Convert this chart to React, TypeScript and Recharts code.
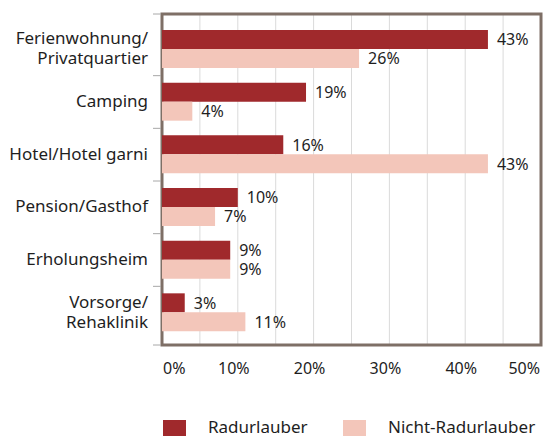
import React from 'react';
import { BarChart, Bar, XAxis, YAxis, CartesianGrid, LabelList, Legend, Customized } from 'recharts';

const categories = [
  'Ferienwohnung/\nPrivatquartier',
  'Camping',
  'Hotel/Hotel garni',
  'Pension/Gasthof',
  'Erholungsheim',
  'Vorsorge/\nRehaklinik',
];
const radurlauber = [43, 19, 16, 10, 9, 3];
const nichtRadurlauber = [26, 4, 43, 7, 9, 11];
const seriesNames = ['Radurlauber', 'Nicht-Radurlauber'];
const xTicks = [0, 5, 10, 15, 20, 25, 30, 35, 40, 45, 50];

const data = categories.map((name, i) => ({
  name,
  rad: radurlauber[i],
  nicht: nichtRadurlauber[i],
}));

const W = 544;
const H = 436;
const FONT = '"Noto Sans", "Open Sans", sans-serif';
const RED = '#a0292c';
const PINK = '#f3c6ba';
const COLORS = [RED, PINK];
const FRAME = '#7e6f66';
const TEXT = '#1e1e1e';
const MARGIN = { top: 14, right: 3, left: 0, bottom: 0 };
const Y_W = 162;
const X_H = 91;
const PAD = { top: 9, bottom: 6 };
const PLOT_TOP = MARGIN.top;
const PLOT_BOTTOM = H - MARGIN.bottom - X_H;
const BAND = (PLOT_BOTTOM - PLOT_TOP - PAD.top - PAD.bottom) / categories.length;
const AXIS_X = MARGIN.left + Y_W;
const PLOT_RIGHT = W - MARGIN.right;

const fmt = (v: any) => `${v}%`;

const YTick = (props: any) => {
  const { y, payload, index } = props;
  const lines = String(payload.value).split('\n');
  const lh = 20;
  const last = index === categories.length - 1;
  const tx = AXIS_X - 14;
  const tickY = index === 0 ? PLOT_TOP : y - BAND / 2;
  return (
    <g>
      <line x1={AXIS_X - 9} x2={AXIS_X - 1} y1={tickY} y2={tickY} stroke="#a8a8a8" strokeWidth={1} />
      {last && (
        <line x1={AXIS_X - 9} x2={AXIS_X - 1} y1={PLOT_BOTTOM} y2={PLOT_BOTTOM} stroke="#a8a8a8" strokeWidth={1} />
      )}
      <text x={tx} y={y} textAnchor="end" fontSize={17} fontFamily={FONT} fill={TEXT}>
        {lines.map((l, i) => (
          <tspan key={i} x={tx} dy={i === 0 ? -((lines.length - 1) * lh) / 2 + 5 : lh}>
            {l}
          </tspan>
        ))}
      </text>
    </g>
  );
};

const XTick = (props: any) => {
  const { x, payload } = props;
  const v = payload.value;
  if (v % 10 !== 0) return <g />;
  let anchor: 'start' | 'middle' | 'end' = 'middle';
  let dx = -4;
  if (v === xTicks[0]) {
    anchor = 'start';
    dx = 1;
  }
  if (v === xTicks[xTicks.length - 1]) {
    anchor = 'end';
    dx = -1;
  }
  return (
    <text x={x + dx} y={PLOT_BOTTOM + 29} textAnchor={anchor} fontSize={16} fontFamily={FONT} fill={TEXT}>
      {fmt(v)}
    </text>
  );
};

const LegendContent = () => (
  <div style={{ display: 'flex', paddingLeft: 163, fontFamily: FONT, fontSize: 17, color: TEXT }}>
    {seriesNames.map((name, i) => (
      <div key={name} style={{ display: 'flex', width: i === 0 ? 180 : 'auto', alignItems: 'flex-start' }}>
        <div style={{ width: 23, height: 23, background: COLORS[i], flex: 'none' }} />
        <div style={{ marginLeft: 22, lineHeight: '16px', marginTop: -1, whiteSpace: 'nowrap' }}>{name}</div>
      </div>
    ))}
  </div>
);

const PlotFrame = () => (
  <rect
    x={AXIS_X}
    y={PLOT_TOP}
    width={PLOT_RIGHT - AXIS_X}
    height={PLOT_BOTTOM - PLOT_TOP}
    fill="none"
    stroke={FRAME}
    strokeWidth={3}
  />
);

export default function App() {
  return (
    <div style={{ position: 'absolute', left: 0, top: 0 }}>
      <BarChart width={W} height={H} data={data} layout="vertical" margin={MARGIN} barGap={0}>
        <CartesianGrid horizontal={false} vertical={true} stroke="#dadada" strokeWidth={1} />
        <XAxis
          type="number"
          domain={[0, 50]}
          ticks={xTicks}
          interval={0}
          height={X_H}
          tickLine={false}
          axisLine={false}
          tick={<XTick />}
        />
        <YAxis
          type="category"
          dataKey="name"
          width={Y_W}
          padding={PAD}
          tickLine={false}
          axisLine={false}
          tick={<YTick />}
          interval={0}
        />
        <Bar dataKey="rad" name={seriesNames[0]} fill={RED} barSize={19} isAnimationActive={false}>
          <LabelList dataKey="rad" position="right" offset={9} formatter={fmt} fill={TEXT} fontSize={16} fontFamily={FONT} />
        </Bar>
        <Bar dataKey="nicht" name={seriesNames[1]} fill={PINK} barSize={19} isAnimationActive={false}>
          <LabelList dataKey="nicht" position="right" offset={9} formatter={fmt} fill={TEXT} fontSize={16} fontFamily={FONT} />
        </Bar>
        <Customized component={<PlotFrame />} />
        <Legend
          layout="horizontal"
          verticalAlign="middle"
          align="center"
          wrapperStyle={{ position: 'absolute', top: 420, left: 0, width: W, height: 16 }}
          content={<LegendContent />}
        />
      </BarChart>
    </div>
  );
}
